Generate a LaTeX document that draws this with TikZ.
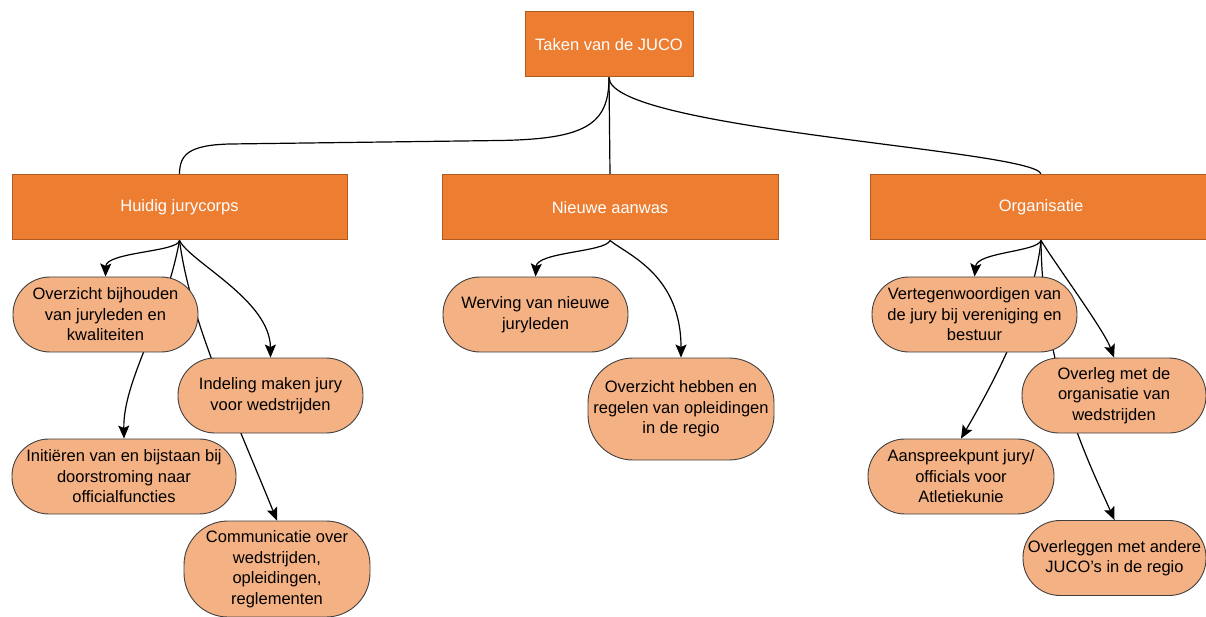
\documentclass[tikz,border=0pt]{standalone}
\usepackage{fontspec}
\setmainfont{Liberation Sans}
\usetikzlibrary{arrows.meta,backgrounds}
\definecolor{boxor}{HTML}{ED7D31}
\definecolor{boxbd}{HTML}{AE5A21}
\definecolor{pillor}{HTML}{F4B183}
\definecolor{pillbd}{HTML}{404040}
\tikzset{
  mainbox/.style={draw=boxbd, line width=1pt, fill=boxor, text=white, inner sep=0pt,
    minimum height=65pt, font=\fontsize{16.5}{20.5}\selectfont},
  pill/.style={draw=pillbd, line width=0.9pt, fill=pillor, text=black, inner sep=0pt,
    minimum height=75pt, rounded corners=37pt, align=center,
    font=\fontsize{16.5}{20.5}\selectfont},
  link/.style={line width=1.2pt, draw=black},
  arr/.style={link, -{Stealth[length=13pt,width=11pt,inset=2.5pt]}}
}
\begin{document}
\begin{tikzpicture}[x=1pt,y=-1pt]
\useasboundingbox (0,0) rectangle (1206,617);
% level 0
\node[mainbox, minimum width=168pt] (top) at (609,44.5) {Taken van de JUCO};
% level 1
\node[mainbox, minimum width=335pt] (hj) at (179.5,207.5) {Huidig jurycorps};
\node[mainbox, minimum width=336pt] (na) at (610,207.5) {Nieuwe aanwas};
\node[mainbox, minimum width=342pt] (org) at (1041,207.5) {Organisatie};
% Huidig jurycorps children
\node[pill, minimum width=185pt] (ov1) at (105.5,314.5) {Overzicht bijhouden\\van juryleden en\\kwaliteiten};
\node[pill, minimum width=185pt] (ind) at (270.5,395.5) {Indeling maken jury\\voor wedstrijden};
\node[pill, minimum width=224pt] (ini) at (124,476.5) {Initiëren van en bijstaan bij\\doorstroming naar\\officialfuncties};
\node[pill, minimum width=186pt, minimum height=96pt, rounded corners=44pt] (com) at (277,569) {Communicatie over\\wedstrijden,\\opleidingen,\\reglementen};
% Nieuwe aanwas children
\node[pill, minimum width=185pt] (wer) at (535.5,314.5) {Werving van nieuwe\\juryleden};
\node[pill, minimum width=186pt, minimum height=102pt, rounded corners=45pt] (ovh) at (681,409) {Overzicht hebben en\\regelen van opleidingen\\in de regio};
% Organisatie children
\node[pill, minimum width=205pt] (ver) at (974.5,314.5) {Vertegenwoordigen van\\de jury bij vereniging en\\bestuur};
\node[pill, minimum width=184pt] (ovl) at (1114,395.5) {Overleg met de\\organisatie van\\wedstrijden};
\node[pill, minimum width=186pt] (aan) at (961,476.5) {Aanspreekpunt jury/\\officials voor\\Atletiekunie};
\node[pill, minimum width=183pt] (ovg) at (1114.5,558) {Overleggen met andere\\JUCO's in de regio};
\begin{pgfonlayer}{background}
% top-level connectors
\draw[link] (top.south) .. controls (609,125) and (585,139) .. (500,140.5) -- (230,144) .. controls (188,145) and (179.5,155) .. (hj.north);
\draw[link] (top.south) -- (na.north);
\draw[link] (top.south) .. controls (609,130) and (1041,150) .. (org.north);
% Huidig jurycorps
\draw[arr] (hj.south) .. controls (178,252) and (106,252) .. (ov1.north);
\draw[arr] (hj.south) .. controls (165,320) and (123,380) .. (ini.north);
\draw[arr] (hj.south) .. controls (190,262) and (270,300) .. (ind.north);
\draw[arr] (hj.south) .. controls (190,320) and (232,410) .. (com.north);
% Nieuwe aanwas
\draw[arr] (na.south) .. controls (606,252) and (537,252) .. (wer.north);
\draw[arr] (na.south) .. controls (628,255) and (681,275) .. (ovh.north);
% Organisatie
\draw[arr] (org.south) .. controls (1037,252) and (977,252) .. (ver.north);
\draw[arr] (org.south) .. controls (1034,310) and (988,392) .. (aan.north);
\draw[arr] (org.south) .. controls (1056,265) and (1104,330) .. (ovl.north);
\draw[arr] (org.south) .. controls (1042,370) and (1090,465) .. (ovg.north);
\end{pgfonlayer}
\end{tikzpicture}
\end{document}
